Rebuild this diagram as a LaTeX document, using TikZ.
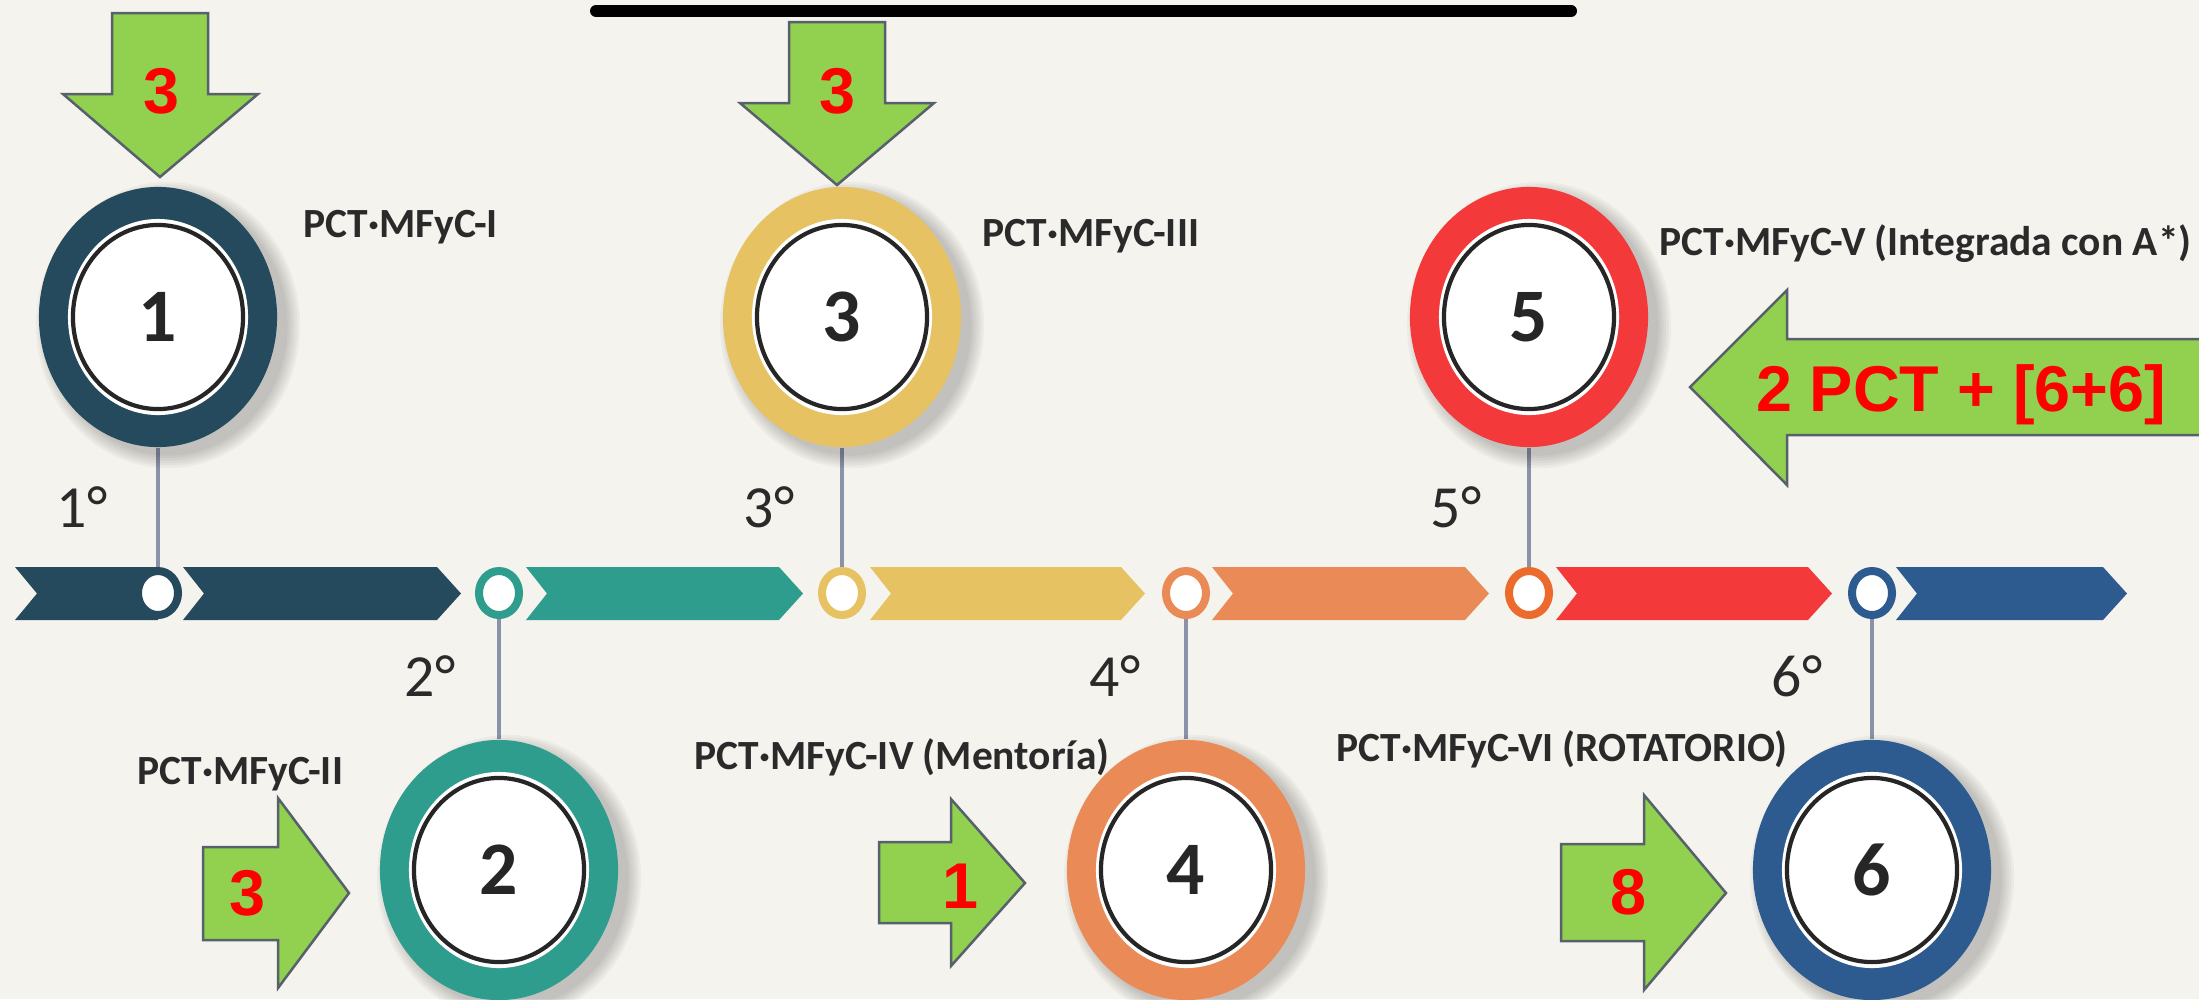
\documentclass[tikz,border=0pt]{standalone}
\usepackage{fontspec}
\setmainfont{Carlito}
\newfontfamily\arialfont{Liberation Sans}
\usetikzlibrary{shapes.geometric}
\pgfdeclarelayer{bg}
\pgfdeclarelayer{lines}
\pgfsetlayers{bg,lines,main}
\definecolor{bgc}{HTML}{F5F3EE}
\definecolor{cdark}{HTML}{264A5D}
\definecolor{cteal}{HTML}{2F9D8D}
\definecolor{cyel}{HTML}{E7C263}
\definecolor{corange}{HTML}{EA8A56}
\definecolor{cred}{HTML}{F3393A}
\definecolor{cring}{HTML}{EC6B2C}
\definecolor{cblue}{HTML}{2D5B8F}
\definecolor{connc}{HTML}{8A91A8}
\definecolor{txt}{HTML}{2A2A2A}
\definecolor{garrowc}{HTML}{92D050}
\definecolor{garrowline}{HTML}{56616B}
\definecolor{rednum}{HTML}{FF0000}
\newcommand\labelfont{\bfseries\fontsize{11.8}{14}\selectfont}
\newcommand\bigdigitfont{\bfseries\fontsize{21.5}{24}\selectfont}
\newcommand\degfont{\fontsize{17}{19}\selectfont}
\newcommand\rednumfont{\arialfont\bfseries\fontsize{18.4}{21}\selectfont}
\newcommand\chevseg[3]{\fill[#3] (#1,567) -- ({#1+21},593.5) -- (#1,620) -- (#2,620) -- ({#2+24},593.5) -- (#2,567) -- cycle;}
\tikzset{
  bigring/.style={ellipse, minimum width=2.38cm, minimum height=2.60cm, inner sep=0pt},
  whitecore/.style={ellipse, fill=white, minimum width=1.80cm, minimum height=1.96cm, inner sep=0pt},
  blackline/.style={ellipse, draw=black!85, line width=1.2pt, minimum width=1.70cm, minimum height=1.84cm, inner sep=0pt, font=\bigdigitfont, text=black!85},
  bandring/.style={ellipse, fill=white, line width=0.08cm, minimum width=0.40cm, minimum height=0.44cm, inner sep=0pt},
  conn/.style={draw=connc, line width=0.045cm},
  plabel/.style={anchor=base west, inner sep=0pt, font=\labelfont, text=txt},
  deg/.style={inner sep=0pt, font=\degfont, text=txt},
  garrow/.style={fill=garrowc, draw=garrowline, line width=0.025cm, line join=miter},
  rednumtxt/.style={anchor=base, inner sep=0pt, font=\rednumfont, text=rednum},
  shadowfill/.style={black, opacity=0.035}
}
\begin{document}
\begin{tikzpicture}[x=0.01cm, y=-0.01cm]
\useasboundingbox (0,0) rectangle (2199,999);
\begin{pgfonlayer}{bg}
  \fill[bgc] (0,0) rectangle (2199,999);
\end{pgfonlayer}

% top black bar
\coordinate (barL) at (596,11);
\coordinate (barR) at (1571,11);
\draw[black, line width=0.12cm, line cap=round] (barL) -- (barR);

% band
\fill[cdark] (15,567) -- (37,593.5) -- (15,620) -- (158,620) -- (158,567) -- cycle;
\chevseg{183}{437}{cdark}
\chevseg{526}{779}{cteal}
\chevseg{870}{1121}{cyel}
\chevseg{1212}{1465}{corange}
\chevseg{1556}{1808}{cred}
\chevseg{1896}{2103}{cblue}

% shadows
\foreach \cx/\cy in {158/317, 842/317, 1529/317, 499/870, 1186/870, 1872/870}{
  \foreach \k in {1,...,6}{
    \fill[shadowfill] (\cx+10,\cy+8) ellipse [x radius={1.17cm+\k*0.025cm}, y radius={1.28cm+\k*0.025cm}];
  }
}

% big circles
\node[bigring, fill=cdark]   (c1) at (158,317) {};
\node[bigring, fill=cteal]   (c2) at (499,870) {};
\node[bigring, fill=cyel]    (c3) at (842,317) {};
\node[bigring, fill=corange] (c4) at (1186,870) {};
\node[bigring, fill=cred]    (c5) at (1529,317) {};
\node[bigring, fill=cblue]   (c6) at (1872,870) {};
\foreach \i in {1,...,6}{
  \node[whitecore] (w\i) at (c\i) {};
  \node[blackline] (n\i) at (c\i) {\i};
}

% band rings
\node[bandring, draw=cdark]   (r1) at (158,593) {};
\node[bandring, draw=cteal]   (r2) at (499,593) {};
\node[bandring, draw=cyel]    (r3) at (842,593) {};
\node[bandring, draw=corange] (r4) at (1186,593) {};
\node[bandring, draw=cring]   (r5) at (1529,593) {};
\node[bandring, draw=cblue]   (r6) at (1872,593) {};

% connectors
\begin{pgfonlayer}{lines}
  \foreach \i in {1,...,6}{
    \draw[conn] (c\i) -- (r\i);
  }
\end{pgfonlayer}

% labels
\node[plabel] (l1) at (303,237) {PCT·MFyC-I};
\node[plabel] (l3) at (982,246) {PCT·MFyC-III};
\node[plabel] (l5) at (1659,255) {PCT·MFyC-V (Integrada con A*)};
\node[plabel] (l2) at (137,784) {PCT·MFyC-II};
\node[plabel] (l4) at (694,769) {PCT·MFyC-IV (Mentoría)};
\node[plabel] (l6) at (1336,761) {PCT·MFyC-VI (ROTATORIO)};

% degree labels
\node[deg] (d1) at (82,507) {1°};
\node[deg] (d3) at (769,507) {3°};
\node[deg] (d5) at (1456,507) {5°};
\node[deg] (d2) at (430,676) {2°};
\node[deg] (d4) at (1115,676) {4°};
\node[deg] (d6) at (1797,676) {6°};

% green arrows
\draw[garrow] (112,13) -- (208,13) -- (208,94) -- (258,94) -- (160,177) -- (63,94) -- (112,94) -- cycle;
\draw[garrow] (789,22) -- (885,22) -- (885,103) -- (934,103) -- (837,185) -- (740,103) -- (789,103) -- cycle;
\draw[garrow] (2215,339) -- (1787,339) -- (1787,290) -- (1690,387) -- (1787,485) -- (1787,435) -- (2215,435) -- cycle;
\draw[garrow] (203,847) -- (278,847) -- (278,798) -- (349,893) -- (278,988) -- (278,940) -- (203,940) -- cycle;
\draw[garrow] (879,842) -- (951,842) -- (951,799) -- (1025,883) -- (951,966) -- (951,923) -- (879,923) -- cycle;
\draw[garrow] (1561,844) -- (1644,844) -- (1644,795) -- (1726,893) -- (1644,990) -- (1644,941) -- (1561,941) -- cycle;

% arrow texts
\node[rednumtxt] (ta) at (161,113) {3};
\node[rednumtxt] (tb) at (837,113) {3};
\node[rednumtxt] (tc) at (1961,411) {2 PCT + [6+6]};
\node[rednumtxt] (td) at (247,915) {3};
\node[rednumtxt] (te) at (960,908) {1};
\node[rednumtxt] (tf) at (1628,914) {8};
\end{tikzpicture}
\end{document}
